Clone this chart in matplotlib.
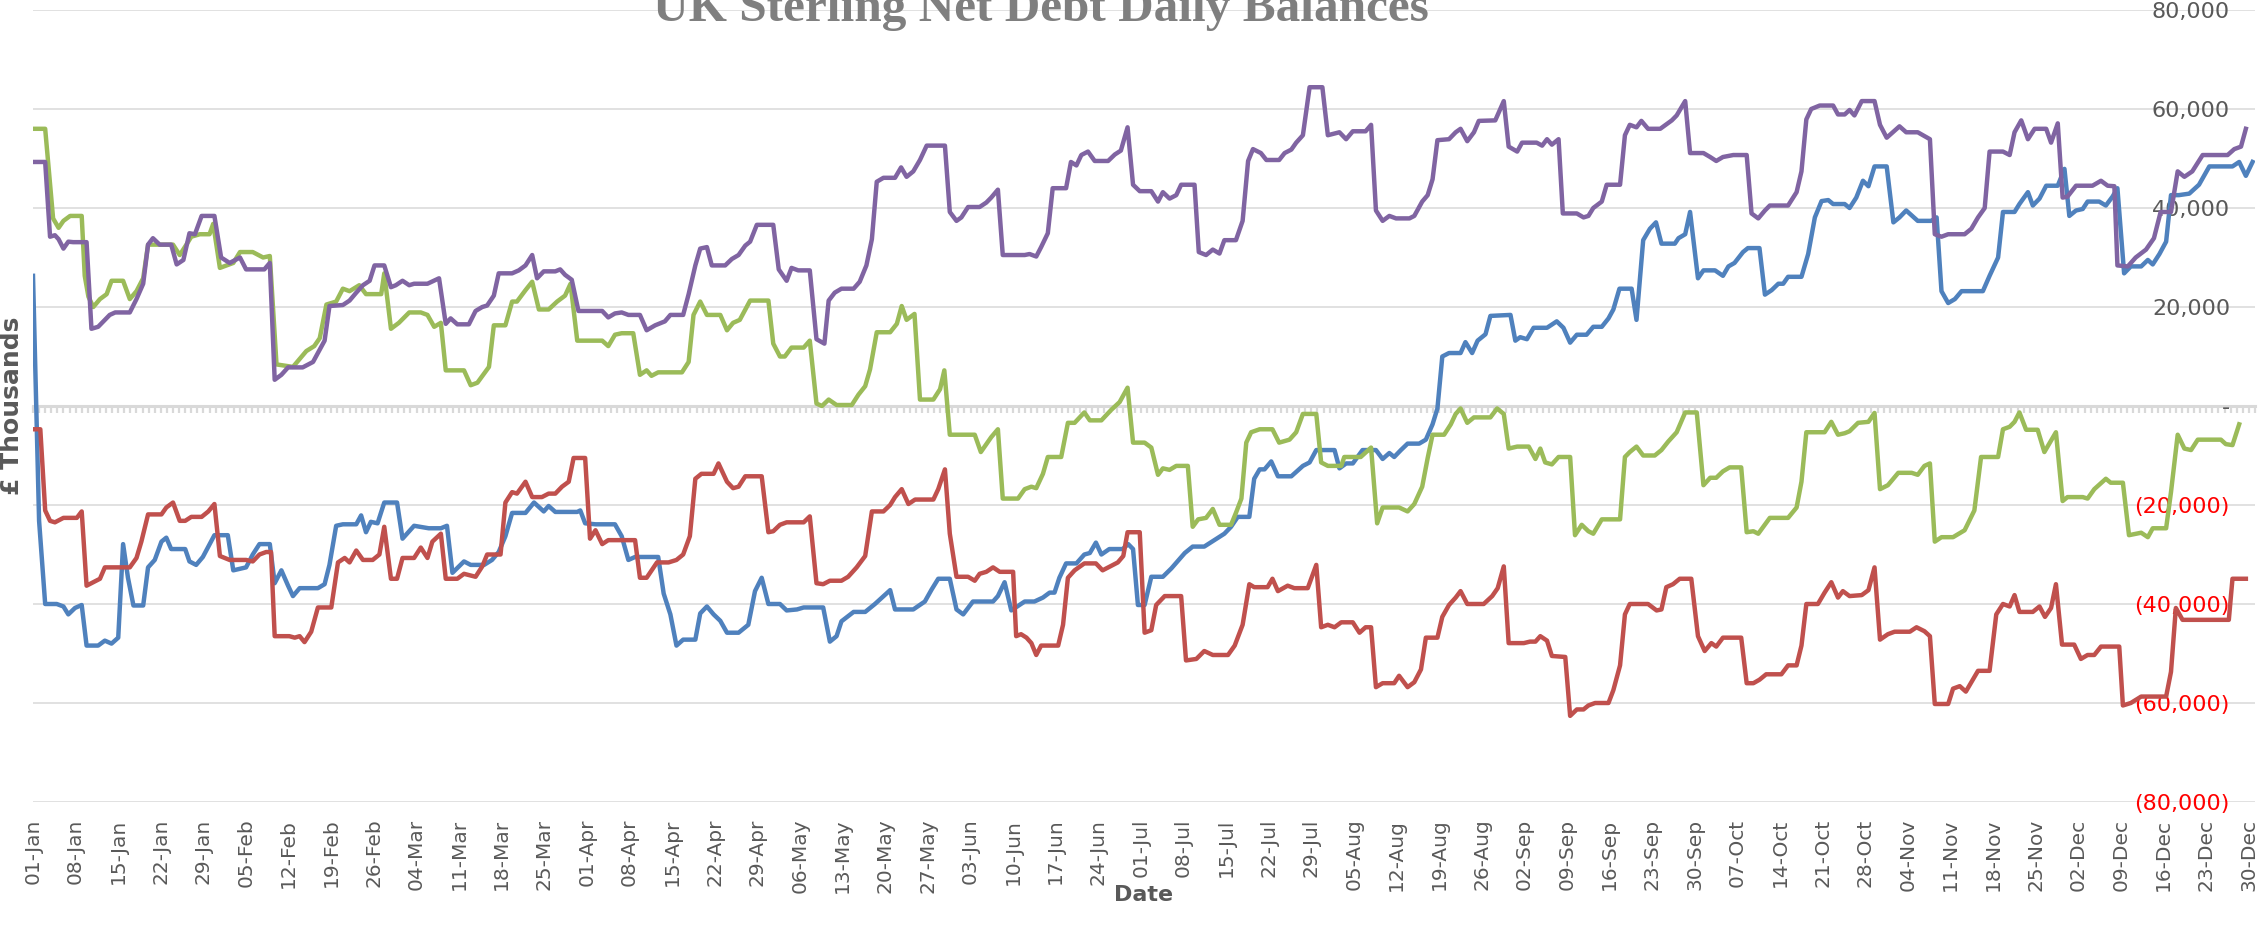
import datetime
import matplotlib.pyplot as plt

plt.switch_backend("AGG")

start = datetime.date(2016, 1, 1)

# (day of year, £ thousands)
blue = [(0, 26300), (1, -23200), (2, -40000), (3.9, -40000), (5, -40500), (5.8, -42100), (6.9, -40800), (8, -40200),
        (8.8, -48400), (10.7, -48400), (11.8, -47400), (12.9, -48000), (14, -46800), (14.8, -27900), (15.6, -34700),
        (16.5, -40300), (18.1, -40300), (18.9, -32600), (20, -31100), (21.1, -27400), (21.9, -26600), (22.7, -28900),
        (25, -28900), (25.7, -31400), (26.8, -32100), (27.9, -30500), (29.8, -26100), (32, -26100), (32.9, -33200),
        (35, -32600), (36.1, -30000), (37.2, -27900), (38.9, -27900), (39.7, -35800), (40.8, -33200), (41.9, -36300),
        (42.7, -38400), (43.8, -36800), (46.8, -36800), (47.9, -36000), (48.7, -32100), (49.8, -24200), (50.9, -23900),
        (53.1, -23900), (53.9, -22100), (54.7, -25500), (55.5, -23400), (56.6, -23700),
        (57.7, -19500), (59.8, -19500), (60.7, -26800), (62.6, -24200), (65, -24700), (67, -24700), (68, -24200),
        (68.9, -33700), (70.8, -31400), (71.9, -32100), (74.1, -32100), (75.4, -31100), (76.5, -29500), (77.6, -26300),
        (78.7, -21600), (80.9, -21600), (82.3, -19500), (83.9, -21300), (84.7, -20200), (85.8, -21400), (89.4, -21400),
        (89.9, -21100), (90.7, -23700), (92.4, -23900), (95.6, -23900), (96.7, -26300), (97.8, -31100), (98.9, -30500),
        (102.7, -30500), (103.6, -37900), (104.7, -42100), (105.7, -48400), (106.8, -47200), (108.8, -47200),
        (109.6, -41900), (110.7, -40500), (111.8, -42100), (112.9, -43400), (114, -45800), (115.9, -45800),
        (117.5, -44200),
        (118.6, -37400), (119.7, -34700), (120.8, -40000), (122.7, -40000), (123.8, -41300), (125.5, -41100),
        (126.6, -40700), (129.8, -40700), (130.9, -47600), (132, -46500), (132.8, -43500), (134.8, -41600),
        (136.7, -41600), (138.3, -40000), (140.8, -37200), (141.6, -41100), (144.6, -41100), (146.5, -39500),
        (147.6, -37100), (148.7, -34900), (150.6, -34900), (151.7, -41100), (152.8, -42100), (154.4, -39500),
        (157.7, -39500), (158.5, -38400), (159.6, -35600), (160.7, -41300), (162.9, -39500), (164.5, -39500),
        (165.9, -38700), (167, -37700), (167.8, -37700), (168.6, -34700), (169.7, -31800), (171.4, -31800),
        (172.7, -30000), (173.6, -29700), (174.6, -27600), (175.5, -30000), (176.8, -28900), (179, -28900),
        (179.9, -27900), (180.7, -28900), (181.5, -40200), (182.6, -40200), (183.7, -34500), (185.6, -34500),
        (187, -32800), (189.2, -29700), (190.5, -28400), (192.4, -28400), (195.7, -25800), (196.8, -24400),
        (197.9, -22400), (199.8, -22400), (200.6, -14700), (201.5, -12800), (202.3, -12800), (203.4, -11200),
        (204.5, -14200), (206.7, -14200), (208.6, -12100), (209.7, -11400), (210.8, -8900), (213.8, -8900),
        (214.6, -12600), (215.7, -11600), (216.8, -11600), (218.4, -8900), (220.6, -8900), (221.7, -10700),
        (222.8, -9500), (223.6, -10300), (224.7, -8900), (225.8, -7600), (227.7, -7600), (228.8, -6800),
        (229.9, -3700), (230.7, -500), (231.5, 10000), (232.6, 10700), (234.5, 10700), (235.3, 12900), (236.4, 10700),
        (237.3, 13200), (238.6, 14500), (239.4, 18200),
        (242.7, 18400), (243.5, 13200), (244.3, 13900), (245.4, 13500), (246.5, 15800), (248.7, 15800),
        (250.3, 17100), (251.4, 15800), (252.5, 12800), (253.6, 14400), (255.2, 14400), (256.3, 16000),
        (257.7, 16000), (258.8, 17700), (259.6, 19500), (260.6, 23700), (262.6, 23700), (263.4, 17400),
        (264.5, 33500), (265.6, 35800), (266.6, 37100), (267.5, 32800), (269.7, 32800), (270.3, 33900),
        (271.4, 34700), (272.2, 39200), (273.5, 25800), (274.4, 27400), (276.3, 27400), (277.6, 26300),
        (278.5, 28200), (279.5, 28900), (280.9, 31100), (281.7, 31900), (283.6, 31900), (284.5, 22500),
        (285.6, 23400), (286.7, 24700), (287.5, 24700), (288.3, 26100), (290.5, 26100), (291.6, 30700),
        (292.7, 38100), (293.8, 41400), (294.9, 41600), (295.7, 40800), (297.6, 40800), (298.4, 40000),
        (299.5, 42100),
        (300.6, 45500), (301.5, 44400), (302.5, 48400), (304.5, 48400), (305.6, 37100), (306.6, 38100),
        (307.7, 39500), (309.6, 37400), (311.8, 37400), (312.7, 38100), (313.5, 23200), (314.6, 20800),
        (315.7, 21600), (316.8, 23200), (320.3, 23200), (321.4, 26300), (322.8, 30000), (323.6, 39200),
        (325.5, 39200), (326.3, 40800), (327.7, 43200), (328.5, 40500), (329.6, 41900), (330.7, 44500),
        (332.6, 44500), (333.7, 47900), (334.5, 38400), (335.6, 39500), (336.7, 39800), (337.5, 41300),
        (339.4, 41300), (340.5, 40500), (341.6, 42300), (342.4, 44000), (343.5, 26800), (344.6, 28200),
        (346.3, 28200), (347.4, 29500), (348.2, 28600), (349.3, 30700), (350.4, 33200), (351.2, 42600),
        (352.5, 42600), (354.2, 42900), (355.8, 44700), (357.5, 48400), (361.3, 48400), (362.4, 49300),
        (363.5, 46500), (364.6, 49300)]

red = [(0, -4700), (1.2, -4700), (2, -21100), (2.8, -23200), (3.6, -23500), (5, -22600), (7.2, -22600), (8, -21300),
       (8.8, -36300), (9.6, -35800), (11, -34900), (11.8, -32600), (15.9, -32600), (17, -30700), (17.8, -27400),
       (18.9, -21900), (21.1, -21900), (21.9, -20500), (23, -19500), (24.1, -23200), (25, -23200), (26, -22400),
       (27.7, -22400), (28.8, -21300), (29.8, -19800), (30.7, -30300), (32.3, -31100), (35, -31100), (36.1, -31400),
       (37.2, -30000), (38.3, -29500), (39.1, -29500), (39.7, -46500), (42.1, -46500), (43, -46800), (43.8, -46500),
       (44.6, -47700), (45.7, -45600), (46.8, -40700), (49, -40700), (50.1, -31600), (51.2, -30700), (52, -31600),
       (53.1, -29200), (54.2, -31100), (55.8, -31100), (56.9, -30000),
       (57.7, -24400), (58.8, -34900), (59.8, -34900), (60.7, -30700), (62.6, -30700), (63.7, -28600),
       (64.8, -30700), (65.6, -27400), (67, -25800), (67.8, -34900), (69.7, -34900), (70.8, -33900), (72.7, -34500),
       (73.8, -32400), (74.6, -30000), (76.8, -30000), (77.6, -19500), (78.7, -17400), (79.5, -17700),
       (80.9, -15300), (82, -18400), (83.6, -18400), (84.7, -17700), (85.8, -17700), (86.9, -16300), (88, -15300),
       (88.8, -10500), (90.7, -10500), (91.5, -26800), (92.4, -25100), (93.5, -27900), (94.5, -27100),
       (98.9, -27100), (99.7, -34700), (100.8, -34700), (102.5, -31600), (104.4, -31600), (105.7, -31100),
       (106.8, -30000), (107.9, -26300), (108.8, -14700), (109.8, -13700), (111.8, -13700), (112.6, -11600),
       (114, -15300), (115, -16600), (115.9, -16300), (117, -14200),
       (119.7, -14200), (120.8, -25500), (121.6, -25300), (122.7, -24000), (123.8, -23500), (126.6, -23500),
       (127.6, -22300), (128.7, -35800), (129.8, -36000), (130.9, -35300), (132.8, -35300), (133.9, -34500),
       (135.3, -32600), (136.7, -30300), (137.8, -21300), (139.7, -21300), (140.8, -20000), (141.6, -18400),
       (142.7, -16800), (143.8, -19800), (144.9, -18900), (147.9, -18900), (148.7, -16800), (149.8, -12800),
       (150.6, -25800), (151.7, -34500), (153.6, -34500), (154.7, -35300), (155.5, -33900), (156.6, -33500),
       (157.7, -32600), (158.8, -33500), (161, -33500), (161.5, -46500), (162.3, -46100), (163.2, -46800),
       (164, -47900), (164.8, -50300), (165.6, -48400), (168.4, -48400), (169.2, -44200), (170, -34700),
       (171.1, -33200), (172.7, -31800), (174.6, -31800), (175.7, -33200), (178.2, -31600),
       (179.1, -30300), (179.8, -25500), (181.8, -25500), (182.6, -45800), (183.7, -45300), (184.5, -40200),
       (185.9, -38400), (188.6, -38400), (189.4, -51400), (191.1, -51100), (192.4, -49500), (193.8, -50300),
       (196.3, -50300), (197.4, -48400), (198.7, -44200), (199.8, -36000), (200.6, -36600), (202.8, -36600),
       (203.6, -34900), (204.5, -37400), (206.1, -36300), (207.2, -36800), (209.4, -36800), (210.8, -32100),
       (211.6, -44700), (212.7, -44200), (213.8, -44700), (214.9, -43700), (216.8, -43700), (217.9, -45800),
       (218.9, -44700), (219.8, -44700), (220.6, -56800), (221.7, -56000), (223.6, -56000), (224.4, -54500),
       (225.8, -56800), (226.9, -55800), (228, -53200), (228.8, -46800), (230.7, -46800), (231.5, -42600),
       (232.6, -40200), (233.7, -38700), (234.5, -37400), (235.6, -40000), (238.3, -40000),
       (239.7, -38400), (240.6, -36800), (241.6, -32400), (242.4, -47900), (244.9, -47900), (245.9, -47600),
       (246.8, -47600), (247.6, -46500), (248.7, -47400), (249.5, -50500), (251.7, -50700), (252.5, -62600),
       (253.6, -61300), (254.7, -61300), (255.5, -60500), (256.6, -60000), (258.8, -60000), (259.6, -57400),
       (260.7, -52400), (261.5, -42100), (262.3, -40000), (265.3, -40000), (266.7, -41300), (267.5, -41100),
       (268.3, -36600), (269.4, -36000), (270.5, -34900), (272.4, -34900), (273.5, -46500), (274.6, -49500),
       (275.7, -47900), (276.5, -48600), (277.6, -46800), (280.6, -46800), (281.5, -56000), (282.6, -56000),
       (283.6, -55300), (284.7, -54200), (287.2, -54200), (288.3, -52400), (289.7, -52400), (290.5, -48400),
       (291.3, -40000), (293.2, -40000), (294.3, -37700), (295.4, -35600), (296.5, -38700), (297.3, -37400),
       (298.4, -38400),
       (300.4, -38200), (301.5, -37200), (302.5, -32600), (303.4, -47200), (304.7, -46100), (305.8, -45600),
       (308.3, -45600), (309.4, -44700), (310.7, -45500), (311.6, -46500), (312.4, -60200), (314.6, -60200),
       (315.4, -57100), (316.5, -56600), (317.5, -57700), (318.4, -55800), (319.5, -53500), (321.4, -53500),
       (322.5, -42100), (323.6, -40000), (324.7, -40500), (325.5, -38200), (326.3, -41600), (328.5, -41600),
       (329.6, -40500), (330.5, -42600), (331.5, -40800), (332.3, -36000), (333.3, -48200), (335.3, -48200),
       (336.4, -51100), (337.5, -50300), (338.6, -50300), (339.7, -48600), (342.7, -48600), (343.3, -60500),
       (344.6, -60000), (346.3, -58700), (350.4, -58700), (351.2, -53700), (352, -40800), (353.1, -43200),
       (360.7, -43200), (361.3, -34900), (363.5, -34900)]

green = [(0, 56000), (2, 56000), (3.3, 37900), (4.2, 36000), (5, 37400), (6.1, 38400), (8, 38400), (8.5, 26300),
         (9.1, 22100), (9.9, 20000), (11, 21600), (12.1, 22600), (12.9, 25300), (14.8, 25300), (15.9, 21600),
         (17, 23200), (18.1, 25800), (18.9, 32600), (23, 32600), (24.1, 30500), (25.2, 32600), (26, 34200),
         (27.4, 34700), (29, 34700), (29.6, 36800), (30.7, 27900), (32.9, 28900), (34, 31100), (36.1, 31100),
         (37.8, 30000), (38.9, 30300), (40, 8400), (42.7, 7900), (44.9, 11100), (46.2, 12100), (47.1, 13700),
         (48.2, 20500), (49.8, 21100), (50.9, 23700), (52, 23200), (53.6, 24400), (54.7, 22600), (57.2, 22600),
         (57.7, 26800), (58.8, 15600), (60.1, 16800), (61.8, 18900), (63.7, 18900), (64.8, 18400), (65.9, 16000),
         (67, 16800), (67.8, 7200), (70.8, 7200), (71.9, 4200), (73, 4700), (74.9, 7900), (75.7, 16300),
         (77.6, 16300), (78.7, 21100), (79.5, 21100), (80.9, 23400), (82, 25100), (83.1, 19500), (84.7, 19500),
         (86.1, 21100), (87.4, 22300), (88.3, 24700), (89.4, 13200), (93.5, 13200), (94.5, 12100), (95.6, 14400),
         (96.7, 14700), (98.6, 14700), (99.7, 6300), (100.8, 7200), (101.6, 6100), (102.7, 6800), (106.6, 6800),
         (107.7, 8900), (108.5, 18400), (109.6, 21100), (110.7, 18400), (112.9, 18400), (114, 15300),
         (115, 16800), (116.1, 17400), (117.8, 21300),
         (120.8, 21300), (121.6, 12600), (122.7, 10000), (123.5, 10000), (124.6, 11800), (126.6, 11800),
         (127.6, 13200), (128.7, 500), (129.6, 0), (130.7, 1300), (132, 200), (134.5, 200), (135.6, 2300),
         (136.7, 4000), (137.5, 7400), (138.6, 14900), (140.8, 14900), (141.9, 16600), (142.7, 20200),
         (143.5, 17400), (144.8, 18600), (145.7, 1300), (147.9, 1300), (149, 3400), (149.7, 7200), (150.6, -5800),
         (154.7, -5800), (155.7, -9300), (157.4, -6300), (158.5, -4700), (159.3, -18700), (161.8, -18700),
         (162.9, -16800), (164, -16300), (164.8, -16600), (165.9, -13700), (166.7, -10300), (168.9, -10300),
         (170, -3400), (171.1, -3400), (172.7, -1300), (173.6, -2900), (175.5, -2900), (177.1, -800),
         (178.5, 800),
         (179.8, 3700), (180.7, -7400), (182.6, -7400), (183.7, -8400), (184.8, -13900), (185.6, -12600),
         (186.7, -12900), (187.8, -12100), (189.7, -12100), (190.5, -24400), (191.4, -22900), (192.7, -22600),
         (193.8, -20800), (194.9, -24000), (196.8, -24000), (197.6, -21600), (198.5, -18700), (199.3, -7400),
         (200.1, -5300), (201.5, -4700), (203.6, -4700), (204.7, -7400), (206.4, -6800), (207.5, -5300),
         (208.6, -1600), (210.8, -1600), (211.6, -11400), (212.7, -12100), (214.9, -12100), (215.4, -10300),
         (218.1, -10300), (219.8, -8400), (220.8, -23700), (221.7, -20500), (224.4, -20500), (225.8, -21300),
         (226.9, -19800), (228.2, -16300), (229.1, -10500), (229.9, -5800), (231.8, -5800), (232.9, -3700),
         (233.7, -1600), (234.5, -500), (235.6, -3400), (236.7, -2300), (239.4, -2300),
         (240.5, -500), (241.6, -1600), (242.4, -8600), (243.8, -8200), (245.7, -8200), (246.8, -10700),
         (247.6, -8600), (248.4, -11400), (249.5, -11800), (250.6, -10300), (252.5, -10300), (253.3, -26100),
         (254.4, -24000), (255.5, -25300), (256.3, -25800), (257.7, -22900), (260.7, -22900), (261.5, -10300),
         (262.3, -9300), (263.4, -8200), (264.5, -10000), (266.4, -10000), (267.5, -8900), (268.6, -7200),
         (270, -5300), (271.4, -1300), (273.3, -1300), (274.4, -16000), (275.5, -14500), (276.5, -14500),
         (277.6, -13200), (278.7, -12400), (280.6, -12400), (281.5, -25500), (282.6, -25300), (283.4, -25800),
         (285.3, -22600), (288.3, -22600), (289.7, -20500), (290.5, -15300), (291.3, -5300), (294.3, -5300),
         (295.4, -3200), (296.5, -5800), (297.6, -5500), (298.4, -5100), (299.8, -3400),
         (301.5, -3200), (302.5, -1400), (303.4, -16800), (304.7, -16000), (306.4, -13500), (308.6, -13500),
         (309.6, -13900), (310.7, -12100), (311.6, -11600), (312.4, -27400), (313.5, -26500), (315.4, -26500),
         (317.3, -25100), (318.9, -21100), (320, -10300), (322.8, -10300), (323.6, -4700), (324.7, -4200),
         (325.5, -3200), (326.3, -1300), (327.4, -4800), (329.3, -4800), (330.4, -9300), (332.3, -5300),
         (333.4, -19200), (334.2, -18400), (336.7, -18400), (337.5, -18700), (338.6, -16800), (340.5, -14700),
         (341.3, -15500), (343.3, -15500), (344.3, -26100), (346.3, -25600), (347.4, -26500), (348.2, -24700),
         (350.4, -24700), (351.2, -17400), (352.3, -5800), (353.4, -8600), (354.5, -8900), (355.6, -6800),
         (359.4, -6800), (360.2, -7700), (361.3, -7900), (362.4, -3700)]

purple = [(0, 49300), (2, 49300), (2.8, 34200), (3.6, 34500), (4.2, 33700), (5, 31800), (5.8, 33200), (6.6, 33100),
          (8.8, 33100), (9.6, 15600), (10.7, 16000), (12.6, 18400), (13.5, 18900), (15.9, 18900), (17, 21600),
          (18.1, 24700), (18.9, 32600), (19.7, 33900), (20.8, 32600), (22.7, 32600), (23.6, 28600), (24.7, 29500),
          (25.7, 34900), (26.6, 34700), (27.7, 38400), (29.8, 38400), (30.9, 30000), (32.3, 28900), (34, 30000),
          (35, 27600), (38, 27600), (38.9, 28900), (39.7, 5300), (40.8, 6300), (41.9, 7800), (44.3, 7800),
          (46, 8900), (47.9, 13200), (48.7, 20200), (50.9, 20400), (52, 21300), (53.1, 22900), (54.2, 24400),
          (55.3, 25300), (56.1, 28400),
          (57.7, 28400), (58.8, 24000), (59.6, 24400), (60.7, 25300), (61.8, 24400), (62.6, 24700), (64.8, 24700),
          (66.7, 25800), (67.8, 16600), (68.6, 17700), (69.7, 16500), (71.6, 16500), (72.7, 19200), (73.8, 20000),
          (74.6, 20300), (75.7, 22300), (76.5, 26800), (78.7, 26800), (79.8, 27400), (80.9, 28400), (82, 30500),
          (82.8, 25800), (83.9, 27200), (85.8, 27200), (86.6, 27600), (87.4, 26500), (88.5, 25500), (89.6, 19200),
          (93.5, 19200), (94.5, 17900), (95.6, 18700), (96.7, 18900), (97.8, 18400), (99.7, 18400), (100.8, 15300),
          (102.2, 16300), (103.8, 17100), (104.7, 18400), (106.8, 18400), (107.7, 22600), (108.8, 28400),
          (109.6, 31800), (110.7, 32100), (111.5, 28400), (113.7, 28400), (114.8, 29700), (115.9, 30500),
          (117, 32400), (117.8, 33200),
          (118.9, 36600), (121.6, 36600), (122.5, 27600), (123.8, 25300), (124.6, 27900), (125.7, 27400),
          (127.6, 27400), (128.7, 13500), (130, 12600), (130.7, 21300), (131.7, 22900), (132.8, 23700),
          (134.8, 23700), (135.8, 25100), (136.9, 28400), (137.8, 33700), (138.6, 45300), (139.7, 46100),
          (141.6, 46100), (142.6, 48200), (143.5, 46300), (144.6, 47400), (145.7, 49700), (146.8, 52600),
          (149.8, 52600), (150.6, 39200), (151.7, 37400), (152.5, 38100), (153.6, 40200), (155.5, 40200),
          (156.6, 41100), (157.4, 42100), (158.5, 43700), (159.3, 30500), (162.9, 30500), (163.7, 30700),
          (164.8, 30200), (165.6, 32100), (166.7, 34900), (167.5, 44000), (169.7, 44000), (170.5, 49300),
          (171.4, 48600), (172.2, 50700), (173.3, 51400), (174.4, 49500), (176.6, 49500), (177.7, 50800),
          (178.7, 51600),
          (179.8, 56300), (180.7, 44700), (181.8, 43400), (183.7, 43400), (184.8, 41300), (185.6, 43200),
          (186.7, 41900), (187.8, 42600), (188.6, 44700), (190.8, 44700), (191.5, 31100), (192.7, 30500),
          (193.8, 31600), (194.9, 30800), (195.7, 33500), (197.6, 33500), (198.7, 37400), (199.6, 49500),
          (200.4, 51900), (201.7, 51100), (202.6, 49700), (204.7, 49700), (205.6, 51100), (206.7, 51800),
          (207.5, 53200), (208.6, 54700), (209.7, 64400), (211.8, 64400), (212.7, 54700), (214.6, 55300),
          (215.7, 53900), (216.8, 55500), (218.9, 55500), (219.8, 56800), (220.6, 39500), (221.7, 37400),
          (222.8, 38400), (223.9, 37900), (226.1, 37900), (226.9, 38400), (228.2, 41300), (229.1, 42600),
          (229.9, 45800), (230.7, 53700), (232.6, 53900), (233.7, 55300), (234.5, 56000), (235.6, 53500),
          (236.7, 55300), (237.5, 57600),
          (240.2, 57700), (241.6, 61600), (242.4, 52400), (243.8, 51400), (244.6, 53200), (247, 53200),
          (247.9, 52600), (248.7, 53900), (249.5, 52800), (250.6, 53900), (251.3, 38900), (253.6, 38900),
          (254.7, 38100), (255.5, 38400), (256.3, 40000), (257.7, 41300), (258.5, 44700), (260.7, 44700),
          (261.5, 54700), (262.3, 56800), (263.4, 56300), (264.2, 57600), (265.3, 56000), (267.3, 56000),
          (269.2, 57700), (270, 58700), (271.4, 61600), (272.2, 51100), (274.4, 51100), (275.5, 50300),
          (276.5, 49500), (277.6, 50300), (279.3, 50700), (281.5, 50700), (282.3, 38900), (283.4, 37900),
          (284.5, 39500), (285.3, 40500), (288.3, 40500), (289.7, 43200), (290.5, 47400), (291.3, 57900),
          (292.1, 60000), (293.5, 60700), (295.7, 60700), (296.5, 58900), (297.6, 58900), (298.4, 59800),
          (299.2, 58700),
          (300.4, 61600), (302.5, 61600), (303.4, 56800), (304.5, 54200), (306.6, 56500), (307.7, 55300),
          (309.6, 55300), (311.6, 53900), (312.4, 34700), (313.5, 34200), (314.6, 34700), (317.3, 34700),
          (318.4, 35800), (319.5, 38100), (320.6, 40000), (321.4, 51400), (323.6, 51400), (324.7, 50700),
          (325.5, 55300), (326.6, 57700), (327.7, 53900), (328.8, 56000), (330.7, 56000), (331.5, 53200),
          (332.6, 57100), (333.4, 42100), (334.2, 42300), (335.6, 44500), (338.3, 44500), (339.7, 45500),
          (340.8, 44500), (341.9, 44400), (342.4, 28400), (344.1, 28200), (345.4, 30000), (347.1, 31600),
          (348.4, 33900), (349.5, 39200), (351.2, 39200), (352.3, 47400), (353.4, 46300), (354.7, 47400),
          (356.4, 50700), (360.5, 50700), (361.6, 51900), (362.7, 52400), (363.5, 56000)]

series = [(blue, "#4F81BD"), (red, "#C0504D"), (green, "#9BBB59"), (purple, "#8064A2")]

y_ticks = [-80000, -60000, -40000, -20000, 0, 20000, 40000, 60000, 80000]
x_ticks = list(range(0, 365, 7))
x_labels = [(start + datetime.timedelta(days=d)).strftime("%d-%b") for d in x_ticks]


def money(v):
    if v == 0:
        return "-"
    if v < 0:
        return "({:,})".format(-v)
    return "{:,}".format(v)


W, H = 2263, 948
fig = plt.figure(figsize=(W / 100, H / 100), dpi=100)
ax = fig.add_axes([33 / W, 1 - 802 / H, (2255 - 33) / W, (802 - 10) / H])

for pts, color in series:
    days, vals = zip(*pts)
    ax.plot(days, vals, color=color, lw=3.2, solid_joinstyle="round", zorder=3)

ax.set_xlim(0, 365)
ax.set_ylim(-80000, 80000)
for s in ax.spines.values():
    s.set_visible(False)

ax.set_yticks(y_ticks, [money(v) for v in y_ticks])
ax.yaxis.tick_right()
ax.yaxis.grid(True, color="#D9D9D9", lw=1.1)
ax.set_axisbelow(True)
ax.tick_params(axis="y", length=0, pad=-18, labelsize=16, labelcolor="#595959")
for lbl, v in zip(ax.get_yticklabels(), y_ticks):
    lbl.set_ha("right")
    if v < 0:
        lbl.set_color("#FF0000")

ax.set_xticks(x_ticks, x_labels)
ax.tick_params(axis="x", length=0, pad=12, labelsize=14.5, labelcolor="#595959", labelrotation=90)

# category axis crossing at zero, with a tick every day hanging below it
zero = ax.secondary_xaxis(0.5)
zero.set_xticks(range(0, 366))
zero.tick_params(axis="x", direction="in", length=5, width=1.6, color="#D9D9D9",
                 labelbottom=False, labeltop=False)
for s in zero.spines.values():
    s.set_color("#D9D9D9")
    s.set_linewidth(2.2)

fig.text(1041 / W, 1 - 21 / H, "UK Sterling Net Debt Daily Balances", ha="center", va="baseline",
         fontsize=35.5, fontweight="bold", family="Liberation Serif", color="#7F7F7F")
fig.text(12 / W, 1 - 406 / H, "£ Thousands", rotation=90, ha="center", va="center",
         fontsize=18, fontweight="bold", color="#595959")
fig.text(1144 / W, 1 - 895 / H, "Date", ha="center", va="center",
         fontsize=16, fontweight="bold", color="#595959")

fig.savefig("out.png", dpi=100)
